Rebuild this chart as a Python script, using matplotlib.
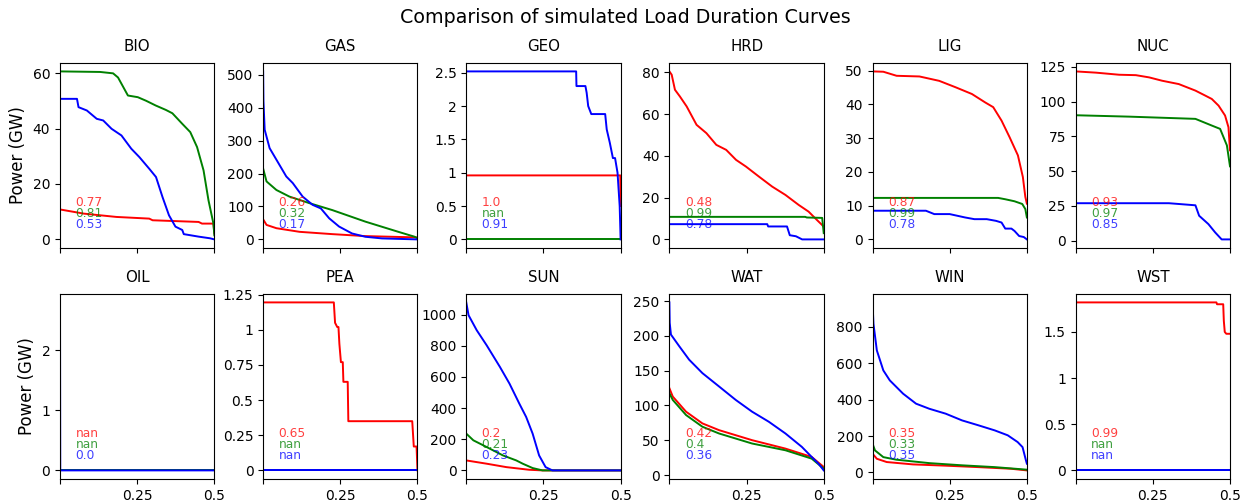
import matplotlib
matplotlib.use("Agg")
import matplotlib.pyplot as plt
from matplotlib.ticker import FormatStrFormatter

plt.rcParams['font.family'] = ['DejaVu Sans']

# carriers, one panel each
names = ['BIO', 'GAS', 'GEO', 'HRD', 'LIG', 'NUC',
         'OIL', 'PEA', 'SUN', 'WAT', 'WIN', 'WST']

# correlation labels (red / green / blue)
corr_red = ['0.77', '0.26', '1.0', '0.48', '0.87', '0.93',
            'nan', '0.65', '0.2', '0.42', '0.35', '0.99']
corr_green = ['0.81', '0.32', 'nan', '0.99', '0.99', '0.97',
              'nan', 'nan', '0.21', '0.4', '0.33', 'nan']
corr_blue = ['0.53', '0.17', '0.91', '0.78', '0.78', '0.85',
             '0.0', 'nan', '0.23', '0.36', '0.35', 'nan']

# load duration curves (x = share of time, y = GW)
bio_red_x = [0, 0.077, 0.183, 0.289, 0.3, 0.449, 0.46, 0.497, 0.5]
bio_red_y = [10.8, 9.3, 8.1, 7.5, 6.9, 6.3, 5.7, 5.7, 2.2]
bio_green_x = [0, 0.13, 0.172, 0.188, 0.22, 0.252, 0.279, 0.31, 0.343, 0.364,
               0.396, 0.422, 0.444, 0.465, 0.481, 0.497, 0.5]
bio_green_y = [60.6, 60.4, 59.9, 58.4, 51.9, 51.3, 50, 48.3, 46.7, 45.5,
               41.7, 38.7, 33.3, 24.9, 14.1, 5.7, 1.5]
bio_blue_x = [0, 0.055, 0.06, 0.087, 0.119, 0.14, 0.167, 0.199, 0.231, 0.257,
              0.289, 0.311, 0.332, 0.353, 0.374, 0.396, 0.401, 0.449, 0.486, 0.5]
bio_blue_y = [50.7, 50.7, 47.7, 46.5, 43.5, 42.9, 39.9, 37.5, 32.7, 29.7,
              25.5, 22.5, 15.3, 8.7, 4.6, 3.4, 1.9, 1.0, 0.4, 0]

gas_red_x = [0, 0.011, 0.043, 0.118, 0.224, 0.331, 0.5]
gas_red_y = [61, 44, 34, 23, 16, 10, 6]
gas_green_x = [0, 0.011, 0.043, 0.085, 0.15, 0.224, 0.331, 0.438, 0.491, 0.5]
gas_green_y = [215, 176, 150, 130, 110, 89, 54, 23, 8, 3]
gas_blue_x = [0, 0.001, 0.005, 0.021, 0.043, 0.075, 0.096, 0.128, 0.16, 0.187,
              0.214, 0.246, 0.288, 0.331, 0.385, 0.5]
gas_blue_y = [510, 420, 333, 277, 242, 191, 171, 130, 105, 94,
              64, 39, 18, 8, 3, 0]

geo_red_x = [0, 0.499, 0.5]
geo_red_y = [0.96, 0.96, 0.5]
geo_green_x = [0, 0.5]
geo_green_y = [0, 0]
geo_blue_x = [0, 0.356, 0.357, 0.386, 0.39, 0.395, 0.405, 0.45, 0.455, 0.465,
              0.475, 0.482, 0.49, 0.497, 0.5]
geo_blue_y = [2.52, 2.52, 2.3, 2.3, 2.2, 2.0, 1.88, 1.88, 1.65, 1.45,
              1.22, 1.22, 1.0, 0.5, 0]

hrd_red_x = [0, 0.0075, 0.018, 0.034, 0.056, 0.088, 0.12, 0.152, 0.184, 0.216,
             0.248, 0.29, 0.333, 0.376, 0.419, 0.451, 0.478, 0.494, 0.5]
hrd_red_y = [80.5, 78.9, 71.7, 68.5, 63.7, 54.9, 50.9, 45.3, 42.9, 38.1,
             34.9, 30.1, 25.3, 21.3, 16.5, 13.3, 9.3, 7, 6]
hrd_green_x = [0, 0.44, 0.445, 0.495, 0.5]
hrd_green_y = [10.8, 10.8, 10.5, 10.3, 3]
hrd_blue_x = [0, 0.317, 0.32, 0.381, 0.39, 0.41, 0.43, 0.5]
hrd_blue_y = [7.3, 7.3, 6.2, 6.2, 2, 1.5, 0, 0]

lig_red_x = [0, 0.035, 0.078, 0.152, 0.216, 0.269, 0.322, 0.365, 0.391, 0.418,
             0.444, 0.471, 0.487, 0.495, 0.5]
lig_red_y = [49.8, 49.7, 48.5, 48.3, 47.0, 45.1, 43.1, 40.6, 39.2, 35.2,
             30.3, 24.9, 18.5, 12.6, 10.6]
lig_green_x = [0, 0.407, 0.43, 0.46, 0.485, 0.495, 0.5]
lig_green_y = [12.3, 12.3, 11.9, 11.3, 10.5, 9, 6.5]
lig_blue_x = [0, 0.173, 0.2, 0.25, 0.3, 0.33, 0.37, 0.4, 0.418, 0.43,
              0.45, 0.46, 0.475, 0.49, 0.5]
lig_blue_y = [8.5, 8.5, 7.5, 7.5, 6.5, 6, 6, 5.5, 5, 3.2,
              3.2, 2.5, 1, 0.7, 0]

nuc_red_x = [0, 0.066, 0.141, 0.195, 0.238, 0.28, 0.334, 0.388, 0.42, 0.441,
             0.463, 0.484, 0.495, 0.5]
nuc_red_y = [121.7, 120.8, 119.3, 119, 117.4, 115, 112.6, 107.9, 104.3, 101.9,
             97.1, 90, 81.6, 65]
nuc_green_x = [0, 0.173, 0.388, 0.441, 0.468, 0.49, 0.5]
nuc_green_y = [90.2, 89.2, 87.6, 82.8, 80.4, 68.5, 53.5]
nuc_blue_x = [0, 0.302, 0.388, 0.4, 0.43, 0.452, 0.473, 0.5]
nuc_blue_y = [27, 27, 25.5, 18, 12, 6, 1, 1]

oil_red_x = [0, 0.5]
oil_red_y = [0, 0]
oil_green_x = [0, 0.5]
oil_green_y = [0, 0]
oil_blue_x = [0, 0.0008, 0.5]
oil_blue_y = [2.8, 0, 0]

pea_red_x = [0, 0.229, 0.233, 0.24, 0.244, 0.247, 0.252, 0.258, 0.26, 0.274,
             0.276, 0.483, 0.488, 0.497, 0.5]
pea_red_y = [1.195, 1.195, 1.05, 1.02, 1.02, 0.9, 0.77, 0.77, 0.63, 0.63,
             0.35, 0.35, 0.17, 0.17, 0]
pea_green_x = [0, 0.5]
pea_green_y = [0, 0]
pea_blue_x = [0, 0.5]
pea_blue_y = [0, 0]

sun_red_x = [0, 0.066, 0.13, 0.204, 0.247, 0.5]
sun_red_y = [64, 43, 21, 4, 0, 0]
sun_green_x = [0, 0.023, 0.066, 0.119, 0.162, 0.183, 0.215, 0.247, 0.5]
sun_green_y = [236, 193, 150, 96, 64, 43, 15, 0, 0]
sun_blue_x = [0, 0.0074, 0.034, 0.066, 0.109, 0.14, 0.172, 0.194, 0.215, 0.236,
              0.257, 0.279, 0.5]
sun_blue_y = [1078, 996, 899, 803, 664, 557, 428, 343, 236, 96,
              21, 0, 0]

wat_red_x = [0, 0.011, 0.054, 0.107, 0.161, 0.268, 0.376, 0.461, 0.5]
wat_red_y = [124.8, 112.7, 91, 74.2, 64.5, 50.1, 38, 26, 11.6]
wat_green_x = [0, 0.011, 0.054, 0.107, 0.161, 0.268, 0.376, 0.461, 0.5]
wat_green_y = [117.5, 107.9, 86.2, 69.4, 59.7, 45.3, 35.6, 23.6, 9.2]
wat_blue_x = [0, 0.001, 0.005, 0.032, 0.064, 0.107, 0.161, 0.215, 0.268, 0.322,
              0.376, 0.429, 0.461, 0.483, 0.5]
wat_blue_y = [248, 218.7, 201.8, 185, 165.7, 146.4, 127.2, 107.9, 91, 76.6,
              59.7, 40.5, 26, 16.4, 6.7]

win_red_x = [0, 0.014, 0.046, 0.131, 0.237, 0.343, 0.449, 0.5]
win_red_y = [103, 75, 57, 44, 37, 29, 20, 11]
win_green_x = [0, 0.008, 0.035, 0.077, 0.184, 0.29, 0.396, 0.5]
win_green_y = [158, 121, 84, 70, 51, 39, 29, 15]
win_blue_x = [0, 0.003, 0.014, 0.035, 0.056, 0.099, 0.141, 0.184, 0.237, 0.29,
              0.343, 0.396, 0.438, 0.47, 0.486, 0.497, 0.5]
win_blue_y = [935, 818, 671, 561, 506, 433, 378, 350, 323, 286,
              259, 231, 204, 167, 139, 66, 48]

wst_red_x = [0, 0.456, 0.458, 0.478, 0.48, 0.483, 0.488, 0.5]
wst_red_y = [1.82, 1.82, 1.80, 1.80, 1.62, 1.50, 1.48, 1.48]
wst_green_x = [0, 0.5]
wst_green_y = [0, 0]
wst_blue_x = [0, 0.5]
wst_blue_y = [0, 0]

curves = {
    'BIO': [(bio_red_x, bio_red_y), (bio_green_x, bio_green_y), (bio_blue_x, bio_blue_y)],
    'GAS': [(gas_red_x, gas_red_y), (gas_green_x, gas_green_y), (gas_blue_x, gas_blue_y)],
    'GEO': [(geo_red_x, geo_red_y), (geo_green_x, geo_green_y), (geo_blue_x, geo_blue_y)],
    'HRD': [(hrd_red_x, hrd_red_y), (hrd_green_x, hrd_green_y), (hrd_blue_x, hrd_blue_y)],
    'LIG': [(lig_red_x, lig_red_y), (lig_green_x, lig_green_y), (lig_blue_x, lig_blue_y)],
    'NUC': [(nuc_red_x, nuc_red_y), (nuc_green_x, nuc_green_y), (nuc_blue_x, nuc_blue_y)],
    'OIL': [(oil_red_x, oil_red_y), (oil_green_x, oil_green_y), (oil_blue_x, oil_blue_y)],
    'PEA': [(pea_red_x, pea_red_y), (pea_green_x, pea_green_y), (pea_blue_x, pea_blue_y)],
    'SUN': [(sun_red_x, sun_red_y), (sun_green_x, sun_green_y), (sun_blue_x, sun_blue_y)],
    'WAT': [(wat_red_x, wat_red_y), (wat_green_x, wat_green_y), (wat_blue_x, wat_blue_y)],
    'WIN': [(win_red_x, win_red_y), (win_green_x, win_green_y), (win_blue_x, win_blue_y)],
    'WST': [(wst_red_x, wst_red_y), (wst_green_x, wst_green_y), (wst_blue_x, wst_blue_y)],
}

colors = ['red', 'green', 'blue']

fig, axes = plt.subplots(2, 6, figsize=(12.5, 5.04), dpi=100, sharex=True)
fig.subplots_adjust(left=0.048, right=0.984, top=0.875, bottom=0.05,
                    wspace=0.316, hspace=0.25)

for i, ax in enumerate(axes.flat):
    name = names[i]
    for (x, y), c in zip(curves[name], colors):
        ax.plot(x, y, color=c, lw=1.4)
    labels = [corr_red[i], corr_green[i], corr_blue[i]]
    for lab, c, ypos in zip(labels, colors, [0.225, 0.165, 0.105]):
        ax.text(0.1, ypos, lab, color=c, alpha=0.75, fontsize=8.8,
                transform=ax.transAxes, va='baseline')
    ax.set_title(name, fontsize=10.8, pad=8.6)
    ax.set_xlim(0, 0.5)
    ax.set_xticks([0, 0.25, 0.5])
    ax.set_xticklabels(['', '0.25', '0.5'])
    ax.yaxis.set_major_formatter(FormatStrFormatter('%g'))
    if i % 6 == 0:
        ax.set_ylabel('Power (GW)', fontsize=12)

fig.suptitle('Comparison of simulated Load Duration Curves', fontsize=13.7, y=0.985)
plt.savefig('out.png')
